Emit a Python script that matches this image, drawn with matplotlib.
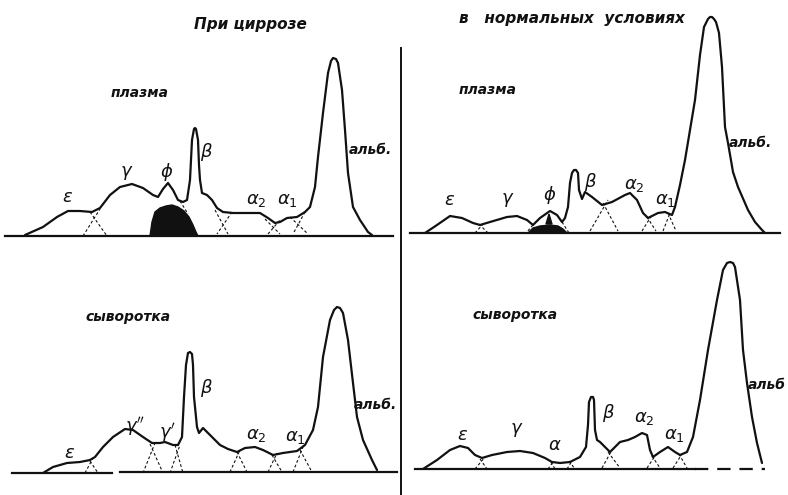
import matplotlib.pyplot as plt
from matplotlib.patches import Polygon

# electrophoretic curves, x/y in sheet units (y grows downward)
# cirrhosis, plasma
cp_x = [25, 43, 57, 68, 80, 92, 100, 110, 120, 132, 143, 153, 158, 163, 168, 173, 178, 183,
        187, 190, 192, 194, 195, 196, 198, 199, 200, 202, 207, 212, 217, 223, 233, 250, 260,
        268, 275, 280, 287, 297, 305, 310, 315, 318, 323, 328, 331, 333, 336, 338, 342, 345,
        348, 353, 360, 368, 372]
cp_y = [235, 227, 217, 211, 211, 212, 208, 195, 187, 184, 188, 195, 197, 189, 183, 190, 200, 202,
        200, 180, 140, 129, 128, 129, 140, 165, 180, 193, 195, 200, 208, 212, 213, 213, 213,
        218, 223, 222, 218, 217, 212, 207, 187, 157, 113, 73, 61, 58, 59, 63, 90, 130,
        173, 207, 220, 232, 235]

# normal, plasma
np_x = [425, 437, 450, 462, 473, 480, 490, 507, 517, 527, 533, 540, 550, 557, 562, 565, 568,
        570, 572, 574, 576, 578, 579, 582, 585, 592, 602, 612, 625, 630, 637, 643, 648, 658,
        665, 672, 675, 680, 685, 690, 695, 700, 704, 708, 710, 712, 714, 716, 719, 722, 725,
        728, 733, 738, 748, 755, 762, 765]
np_y = [233, 225, 216, 218, 223, 225, 222, 217, 216, 220, 225, 218, 211, 215, 222, 218, 207,
        183, 173, 170, 170, 173, 190, 199, 192, 197, 205, 202, 195, 193, 200, 213, 218, 213,
        212, 215, 207, 185, 160, 130, 100, 55, 27, 19, 17, 17, 19, 22, 33, 67, 127,
        143, 172, 187, 210, 222, 230, 233]

# cirrhosis, serum
cs_x = [43, 53, 67, 80, 90, 95, 103, 113, 125, 133, 143, 152, 160, 165, 173, 178, 182, 184,
        186, 188, 190, 192, 193, 194, 197, 199, 203, 205, 212, 220, 228, 237, 245, 255, 263,
        273, 283, 297, 305, 313, 318, 323, 330, 334, 337, 340, 343, 348, 353, 357, 363, 372, 377]
cs_y = [473, 467, 463, 462, 460, 457, 447, 437, 429, 430, 437, 443, 443, 442, 445, 445, 437, 397,
        365, 353, 352, 354, 365, 397, 427, 433, 428, 430, 437, 445, 449, 452, 448, 447, 450,
        455, 453, 451, 445, 430, 407, 357, 320, 310, 307, 308, 313, 340, 383, 417, 440, 460, 470]

# normal, serum
ns_x = [423, 437, 450, 460, 468, 475, 482, 492, 507, 520, 533, 545, 552, 560, 570, 580, 586,
        588, 589, 591, 593, 594, 595, 597, 600, 605, 610, 615, 620, 628, 635, 642, 647, 650,
        653, 660, 668, 675, 680, 687, 693, 700, 708, 717, 723, 727, 730, 733, 735, 740, 743,
        747, 752, 757, 762]
ns_y = [469, 460, 450, 446, 448, 455, 458, 455, 452, 451, 453, 458, 462, 463, 462, 457, 447,
        425, 402, 397, 397, 400, 430, 440, 442, 447, 452, 447, 442, 440, 437, 433, 435, 450,
        457, 452, 447, 452, 455, 452, 437, 400, 350, 300, 270, 263, 262, 263, 267, 300, 350,
        383, 417, 443, 463]

# overlapping tails of neighbouring fractions: (x0, y0, x1, y1)
cp_tails = [(90, 212, 107, 236), (83, 236, 100, 209), (180, 201, 188, 214),
            (215, 210, 228, 234), (232, 212, 217, 234), (265, 219, 280, 234), (268, 234, 280, 220),
            (290, 217, 308, 234), (305, 212, 293, 234)]
np_tails = [(475, 233, 485, 222), (479, 224, 488, 233), (533, 225, 526, 233), (562, 222, 569, 233),
            (590, 231, 608, 200), (603, 203, 618, 231), (642, 231, 652, 215), (647, 217, 656, 231),
            (663, 231, 670, 213), (668, 213, 676, 231)]
cs_tails = [(85, 473, 93, 458), (90, 461, 98, 473), (143, 473, 155, 443), (150, 444, 163, 473),
            (170, 473, 180, 445), (175, 445, 183, 473), (230, 472, 240, 450), (237, 452, 247, 472),
            (268, 472, 277, 453), (272, 455, 282, 472), (293, 472, 303, 447), (300, 450, 312, 472)]
ns_tails = [(475, 469, 485, 457), (480, 459, 487, 469), (548, 469, 553, 462), (551, 462, 555, 469),
            (567, 469, 572, 461), (569, 461, 575, 469), (602, 468, 612, 450), (608, 452, 620, 468),
            (647, 468, 655, 456), (652, 456, 660, 468), (673, 468, 682, 454), (679, 454, 687, 468)]

# shaded fraction under phi
cp_fill_x = [150, 152, 155, 160, 166, 172, 178, 184, 189, 193, 196, 198]
cp_fill_y = [236, 222, 212, 208, 206, 205, 207, 211, 217, 225, 232, 236]
np_fill_x = [528, 533, 540, 550, 558, 563, 567]
np_fill_y = [233, 228, 226, 225, 226, 229, 233]

fig = plt.figure(figsize=(7.88, 4.95), dpi=100)
ax = fig.add_axes([0, 0, 1, 1])
ax.set_xlim(0, 788)
ax.set_ylim(495, 0)
ax.axis('off')

ink = '#111111'
lw = 1.6

# baselines and divider
ax.plot([5, 393], [236, 236], color=ink, lw=lw)
ax.plot([410, 780], [233, 233], color=ink, lw=lw)
ax.plot([12, 112], [473, 473], color=ink, lw=lw)
ax.plot([120, 397], [472, 472], color=ink, lw=lw)
ax.plot([415, 695], [469, 469], color=ink, lw=lw)
ax.plot([695, 765], [469, 469], color=ink, lw=lw, linestyle=(0, (6, 4)))
ax.plot([401, 401], [48, 495], color=ink, lw=1.4)

for xs, ys in [(cp_x, cp_y), (np_x, np_y), (cs_x, cs_y), (ns_x, ns_y)]:
    ax.plot(xs, ys, color=ink, lw=lw, solid_joinstyle='round', solid_capstyle='round')

for tails in [cp_tails, np_tails, cs_tails, ns_tails]:
    for x0, y0, x1, y1 in tails:
        ax.plot([x0, x1], [y0, y1], color=ink, lw=0.8, linestyle=(0, (2.5, 2)))

ax.add_patch(Polygon(list(zip(cp_fill_x, cp_fill_y)), closed=True, color=ink))
ax.add_patch(Polygon(list(zip(np_fill_x, np_fill_y)), closed=True, color=ink))
ax.add_patch(Polygon([(546, 224), (549, 214), (552, 224)], closed=True, color=ink))

# titles and captions
hand = dict(family=['Liberation Sans Narrow', 'DejaVu Sans'], style='italic',
            weight='bold', color=ink, ha='center', va='center')
ax.text(250, 25, 'При циррозе', fontsize=11, **hand)
ax.text(572, 18, 'в   нормальных  условиях', fontsize=11, **hand)
ax.text(140, 93, 'плазма', fontsize=10, **hand)
ax.text(488, 90, 'плазма', fontsize=10, **hand)
ax.text(128, 317, 'сыворотка', fontsize=10, **hand)
ax.text(515, 315, 'сыворотка', fontsize=10, **hand)
ax.text(370, 150, 'альб.', fontsize=10, **hand)
ax.text(750, 143, 'альб.', fontsize=10, **hand)
ax.text(375, 405, 'альб.', fontsize=10, **hand)
ax.text(767, 385, 'альб', fontsize=10, **hand)

# fraction labels
greek = dict(color=ink, ha='center', va='center', fontsize=13)
labels = [
    (68, 197, r'$\varepsilon$'), (127, 173, r'$\gamma$'), (167, 172, r'$\phi$'),
    (206, 152, r'$\beta$'), (256, 200, r'$\alpha_2$'), (287, 200, r'$\alpha_1$'),
    (450, 200, r'$\varepsilon$'), (508, 200, r'$\gamma$'), (550, 195, r'$\phi$'),
    (590, 182, r'$\beta$'), (634, 185, r'$\alpha_2$'), (665, 200, r'$\alpha_1$'),
    (70, 453, r'$\varepsilon$'), (135, 427, r"$\gamma''$"), (167, 432, r"$\gamma'$"),
    (206, 388, r'$\beta$'), (256, 435, r'$\alpha_2$'), (295, 437, r'$\alpha_1$'),
    (463, 435, r'$\varepsilon$'), (517, 430, r'$\gamma$'), (555, 445, r'$\alpha$'),
    (608, 413, r'$\beta$'), (644, 418, r'$\alpha_2$'), (674, 435, r'$\alpha_1$'),
]
for x, y, s in labels:
    ax.text(x, y, s, **greek)

fig.savefig('out.png', dpi=100)
